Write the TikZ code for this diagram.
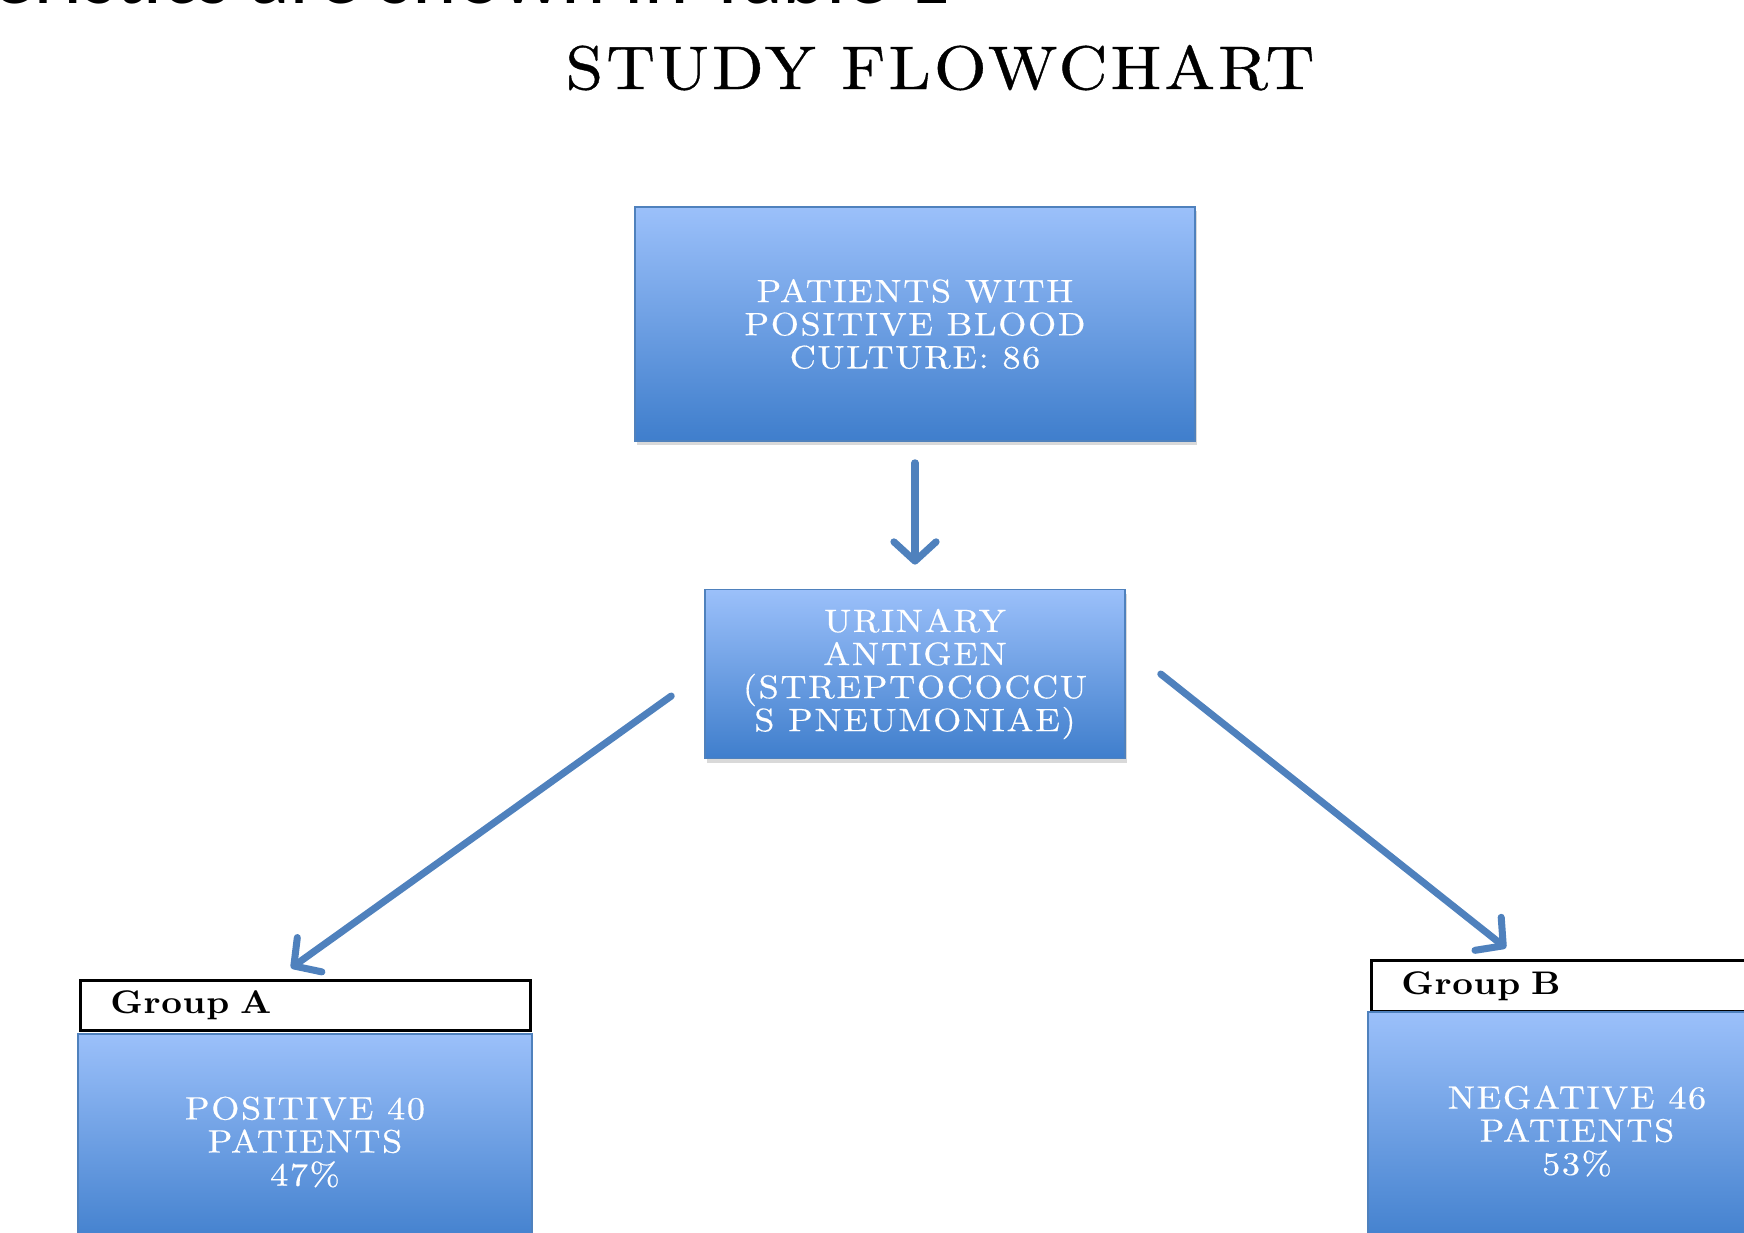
\documentclass[tikz,border=0pt]{standalone}
\usepackage{fontspec}
\newfontfamily\captionfont{Carlito}
\newfontfamily\spacedfont{lmroman10-regular}[Extension=.otf, FakeStretch=1.12, LetterSpace=5, FakeBold=0.4]
\newfontfamily\titlefont{lmroman10-regular}[Extension=.otf, FakeStretch=1.1, LetterSpace=5, FakeBold=0.6]
\newfontfamily\groupfont{lmroman10-bold}[Extension=.otf, FakeStretch=1.1, LetterSpace=2]
\usetikzlibrary{arrows.meta,shadows,calc}

\definecolor{boxtop}{RGB}{155,192,250}
\definecolor{boxbottom}{RGB}{63,126,204}
\definecolor{boxedge}{RGB}{79,129,189}
\definecolor{arrowblue}{RGB}{79,129,189}

\newcommand\boxtext{\spacedfont\fontsize{9.2}{9.4}\selectfont}
\newcommand\grouptext{\groupfont\fontsize{9.3}{10}\selectfont}

\begin{document}
\begin{tikzpicture}[
        x=0.01cm, y=-0.01cm,
        flowbox/.style={draw=boxedge, line width=0.5pt, top color=boxtop, bottom color=boxbottom,
            text=white, align=center, inner sep=0pt, font=\boxtext,
            drop shadow={opacity=0.3, shadow xshift=0.5pt, shadow yshift=-1.2pt}},
        grouplabel/.style={draw=black, line width=0.8pt, fill=white, anchor=north west,
            align=left, inner ysep=0pt, inner xsep=0.3cm, font=\grouptext},
        flowarrow/.style={draw=arrowblue, line width=2pt, line cap=round,
            -{Straight Barb[round, length=5.5pt, width=12pt]}}
    ]
        \useasboundingbox (0,0) rectangle (1744,1232);
        \clip (0,0) rectangle (1744,1232);

        % Leftover line of the page above, cut off at the top
        \node[font=\captionfont\fontsize{24}{24}\selectfont, anchor=base east, inner sep=0pt] (pagetext) at (951,3) {characteristics are shown in Table 1};

        % Title
        \node[font=\titlefont\fontsize{17.5}{20}\selectfont, anchor=base, inner sep=0pt] (title) at (940,89) {STUDY FLOWCHART};

        % Main boxes
        \node[flowbox, minimum width=5.6cm, minimum height=2.335cm] (cultures) at (915,324) {PATIENTS WITH\\POSITIVE BLOOD\\CULTURE: 86};
        \node[flowbox, minimum width=4.195cm, minimum height=1.69cm] (antigen) at (915,674) {URINARY\\ANTIGEN\\(STREPTOCOCCU\\S PNEUMONIAE)};

        % Groups
        \node[grouplabel, minimum width=4.5cm, minimum height=0.5cm, text width=3.9cm] (groupA) at (79,979) {Group A};
        \node[flowbox, minimum width=4.53cm, minimum height=2.16cm] (positive) at (305,1142) {POSITIVE 40\\PATIENTS\\47\%};
        \node[grouplabel, minimum width=4.16cm, minimum height=0.51cm, text width=3.56cm] (groupB) at (1370,959) {Group B};
        \node[flowbox, minimum width=4.18cm, minimum height=2.38cm] (negative) at (1577,1131) {NEGATIVE 46\\PATIENTS\\53\%};

        % Arrow ends
        \coordinate (tailA) at ($(antigen.west)+(-33,22)$);
        \coordinate (tipA) at ($(groupA.north west)+(212,-11)$);
        \coordinate (tailB) at ($(antigen.east)+(35,0)$);
        \coordinate (tipB) at ($(groupB.north west)+(136,-11)$);

        % Arrows
        \draw[flowarrow, shorten <=6pt, shorten >=6.8pt] (cultures.south) -- (antigen.north);
        \draw[flowarrow] (tailA) -- (tipA);
        \draw[flowarrow] (tailB) -- (tipB);
    \end{tikzpicture}
\end{document}
